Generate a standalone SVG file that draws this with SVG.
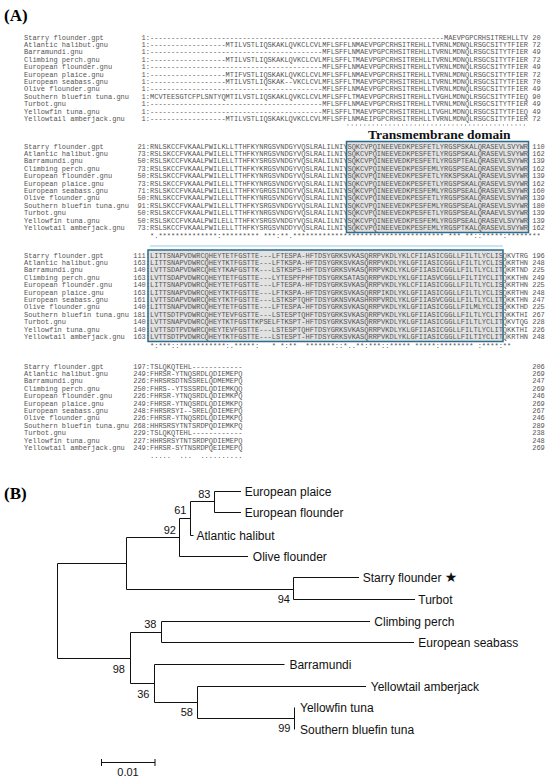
<svg xmlns="http://www.w3.org/2000/svg" width="550" height="780" viewBox="0 0 550 780">
<style>
.panel{font-family:"Liberation Serif","Times New Roman",serif;font-weight:bold;font-size:17px;fill:#000}
.aln{font-family:"Liberation Mono","DejaVu Sans Mono",monospace;font-size:7px;fill:#555;white-space:pre}
.tm{font-family:"Liberation Serif","Times New Roman",serif;font-weight:bold;font-size:13.5px;fill:#111}
.box{fill:none;stroke:#2b6c8f;stroke-width:1.5}
.shade{fill:#e2e2e2}
.br{fill:none;stroke:#111;stroke-width:1}
.leaf{font-family:"Liberation Sans",Arial,sans-serif;font-size:12px;fill:#111}
.bs{font-family:"Liberation Sans",Arial,sans-serif;font-size:11px;fill:#111;text-anchor:end}
.e{text-anchor:end}
</style>
<rect width="550" height="780" fill="#fff"/>
<text class="panel" x="4" y="21">(A)</text>

<g id="shading">
<rect class="shade" x="346.5" y="141.5" width="182" height="91"/>
<rect class="shade" x="148" y="250" width="355" height="91.5"/>
</g>

<g id="block1">
<text class="aln" y="39.5"><tspan x="24">Starry flounder.gpt</tspan><tspan x="150" class="e">1:</tspan><tspan x="150">----------------------------------------------------------------------MAEVPGPCRHSITREHLLTV</tspan><tspan x="532.2">20</tspan></text>
<text class="aln" y="46.9"><tspan x="24">Atlantic halibut.gnu</tspan><tspan x="150" class="e">1:</tspan><tspan x="150">------------------MTILVSTLIQSKAKLQVKCLCVLMFLSFFLNMAEVPGPCRHSITREHLLTVRNLMDNQLRSGCSITYTFIER</tspan><tspan x="532.2">72</tspan></text>
<text class="aln" y="54.3"><tspan x="24">Barramundi.gnu</tspan><tspan x="150" class="e">1:</tspan><tspan x="150">-----------------------------------------MFLSFFLNMAEVPGPCRHSITREHLLTVRNLMDNQLRSGCSITYTFIER</tspan><tspan x="532.2">49</tspan></text>
<text class="aln" y="61.7"><tspan x="24">Climbing perch.gnu</tspan><tspan x="150" class="e">1:</tspan><tspan x="150">------------------MTILVSTLIQSKAKLQVKCLCVLMFLSFFLTMAEVPGPCRHSITREHLLTVRNLMDNQLRSGCSITYTFIER</tspan><tspan x="532.2">72</tspan></text>
<text class="aln" y="69.1"><tspan x="24">European flounder.gnu</tspan><tspan x="150" class="e">1:</tspan><tspan x="150">-----------------------------------------MFLSFFLNMAEVPGPCRHSITREHLLTVRNLMDNQLRSGCSITYTFIER</tspan><tspan x="532.2">49</tspan></text>
<text class="aln" y="76.5"><tspan x="24">European plaice.gnu</tspan><tspan x="150" class="e">1:</tspan><tspan x="150">------------------MTIFVSTLIQSKAKLQVKCLCVLMFLSFFLNMAEVPGPCRHSITREHLLTVRNLMDNQLRSGCSITYTFIER</tspan><tspan x="532.2">72</tspan></text>
<text class="aln" y="83.9"><tspan x="24">European seabass.gnu</tspan><tspan x="150" class="e">1:</tspan><tspan x="150">------------------MTILVSTLIQSKAK--VKCLCVLMFLSFFLTMAEVPGPCRHSITREHLLTVRNLMDNQLRSGCSITYTFIER</tspan><tspan x="532.2">70</tspan></text>
<text class="aln" y="91.3"><tspan x="24">Olive flounder.gnu</tspan><tspan x="150" class="e">1:</tspan><tspan x="150">-----------------------------------------MFLSFFLNMAEVPGPCRHSITREHLLTVRNLMDNQLRSGCSITYTFIER</tspan><tspan x="532.2">49</tspan></text>
<text class="aln" y="98.7"><tspan x="24">Southern bluefin tuna.gnu</tspan><tspan x="150" class="e">1:</tspan><tspan x="150">MCVTEESGTCFPLSNTYQMTILVSTLIQSKAKLQVKCLCVLMFLSFFLTMAEVPGPCRHSITREHLLTVGHLMDNQLRSGCSITYTFIEQ</tspan><tspan x="532.2">90</tspan></text>
<text class="aln" y="106.1"><tspan x="24">Turbot.gnu</tspan><tspan x="150" class="e">1:</tspan><tspan x="150">-----------------------------------------MFLSFFLNMAEVPGPCRHSITREHLLTVRNLMDNQLRSGCSITYTFIER</tspan><tspan x="532.2">49</tspan></text>
<text class="aln" y="113.5"><tspan x="24">Yellowfin tuna.gnu</tspan><tspan x="150" class="e">1:</tspan><tspan x="150">-----------------------------------------MFLSFFLTMAEVPGPCRHSITREHLLTVGHLMDNQLRSGCSITYTFIEQ</tspan><tspan x="532.2">49</tspan></text>
<text class="aln" y="120.9"><tspan x="24">Yellowtail amberjack.gnu</tspan><tspan x="150" class="e">1:</tspan><tspan x="150">------------------MTILVSTLIQSKAKLQVKCLCVLMFLSFFLNMAEIPGPCRHSITREHLLTVRNLMDNQLRSGCSITYTFIER</tspan><tspan x="532.2">72</tspan></text>
</g>

<line x1="347.5" y1="125" x2="528" y2="125" stroke="#666" stroke-width="1" stroke-dasharray="1 3.2"/>
<text class="tm" x="368" y="138.5">Transmembrane domain</text>

<g id="block2">
<text class="aln" y="148.5"><tspan x="24">Starry flounder.gpt</tspan><tspan x="150" class="e">21:</tspan><tspan x="150">RNLSKCCFVKAALPWILKLLTTHFKYNRGSVNDGYVQSLRALILNIYSQKCVPQINEEVEDKPESFETLYRGSPSKALQRASEVLSVYWR</tspan><tspan x="532.2">110</tspan></text>
<text class="aln" y="155.9"><tspan x="24">Atlantic halibut.gnu</tspan><tspan x="150" class="e">73:</tspan><tspan x="150">RSLSKCCFVKAALPWILELLTTHFKYNRGSVNDGYVQSLRALILNIYSQKCVPQINEEVEDKPESFETLYRGSPSKALQRASEVLSVYWR</tspan><tspan x="532.2">162</tspan></text>
<text class="aln" y="163.3"><tspan x="24">Barramundi.gnu</tspan><tspan x="150" class="e">50:</tspan><tspan x="150">RSLSKCCFVKAALPWILELLTTHFKYSRGSVNDGYVQSLRALILNIYSQKCVPQINEEVEDKPESFETLYRGSPTEALQRASEVLSVYWR</tspan><tspan x="532.2">139</tspan></text>
<text class="aln" y="170.7"><tspan x="24">Climbing perch.gnu</tspan><tspan x="150" class="e">73:</tspan><tspan x="150">RSLSKCCFVKAALPWILELLTTHFKYKRGSVNDGYVQSLRALILNIYSQKCVPQINEEVEDKPESFEMLYRGSPSEALQRASEVLSVYWR</tspan><tspan x="532.2">162</tspan></text>
<text class="aln" y="178.1"><tspan x="24">European flounder.gnu</tspan><tspan x="150" class="e">50:</tspan><tspan x="150">RSLSKCCFVKAALPWILELLTTHFKYNRGSVNDGYVQSLRALILNIYSQKCVPQINEEVEDKPESFETLYRKSPSKALQRASEVLSVYWR</tspan><tspan x="532.2">139</tspan></text>
<text class="aln" y="185.5"><tspan x="24">European plaice.gnu</tspan><tspan x="150" class="e">73:</tspan><tspan x="150">RSLSKCCFVKAALPWILELLTTHFKYNRGSVNDGYVQSLRALILNIYSQKCVPQINEEVEDKPESFETLYRGSPSKALQRASEVLSVYWR</tspan><tspan x="532.2">162</tspan></text>
<text class="aln" y="192.9"><tspan x="24">European seabass.gnu</tspan><tspan x="150" class="e">71:</tspan><tspan x="150">RSLSKCCFVKAALPWILELLTTHFKYGRGSINDGYVQSLRALILNIYSQKCVPQINEEVEDKPESFEMLYRGSPSEALQRASEVLSVYWR</tspan><tspan x="532.2">160</tspan></text>
<text class="aln" y="200.3"><tspan x="24">Olive flounder.gnu</tspan><tspan x="150" class="e">50:</tspan><tspan x="150">RNLSKCCFVKAALPWILELLTTHFKYNRGSVNDGYVQSLRALILNIYSQKCVPQINEEVEDKPESFETLYRGSPSKALQRASEVLSVYWR</tspan><tspan x="532.2">139</tspan></text>
<text class="aln" y="207.7"><tspan x="24">Southern bluefin tuna.gnu</tspan><tspan x="150" class="e">91:</tspan><tspan x="150">RSLSKCCFVKAALPWILELLTTHFKYSRGSVNDGYVQSLRALILNIYSQKCVPQINEEVEDKPESFEMLYRGSPSEALQRASEVLSVYWR</tspan><tspan x="532.2">180</tspan></text>
<text class="aln" y="215.1"><tspan x="24">Turbot.gnu</tspan><tspan x="150" class="e">50:</tspan><tspan x="150">RSLSKCCFVKAALPWILELLTTHFKYNRGSVNDGYVQSLRALILNIYSQKCVPQINEEVEDKPESFETLYRGSPSEALQRAAEVLSVYWR</tspan><tspan x="532.2">139</tspan></text>
<text class="aln" y="222.5"><tspan x="24">Yellowfin tuna.gnu</tspan><tspan x="150" class="e">50:</tspan><tspan x="150">RSLSKCCFVKAALPWILELLTTHFKYSRGSVNDGYVQSLRALILNIYSQKCVPQINEEVEDKPESFEMLYRGSPSEALQRASEVLSVYWR</tspan><tspan x="532.2">139</tspan></text>
<text class="aln" y="229.9"><tspan x="24">Yellowtail amberjack.gnu</tspan><tspan x="150" class="e">73:</tspan><tspan x="150">RSLSKCCFVKAALPWILELLTTHFKYSRGSVNDDYVQSLRALILNIYSQKCVPQINEEVEDKPESFEMLYRGSPTKALQRASEVLSVYWR</tspan><tspan x="532.2">162</tspan></text>
<text class="aln" x="150" y="237.5">*.**************:********* ***:**.************************************ *** **::*****:********</text>
</g>

<line x1="150" y1="246" x2="503" y2="246" stroke="#9ccbe3" stroke-width="1.2"/>

<g id="block3">
<text class="aln" y="257.5"><tspan x="24">Starry flounder.gpt</tspan><tspan x="150" class="e">111:</tspan><tspan x="150">LITTSNAPVDWRCQHEYTETFGSTTE---LFTESPA-HFTDSYGRKSVKASQRRPVKDLYKLCFIIASICGGLLFILTLYCLISQKVTRG</tspan><tspan x="532.2">196</tspan></text>
<text class="aln" y="264.9"><tspan x="24">Atlantic halibut.gnu</tspan><tspan x="150" class="e">163:</tspan><tspan x="150">LITTSNAPVDWRCQHEYTKTFGSTTE---LFTKSPA-HFTDSYGRKSVKASQRRPVKDLYKLGFIIASICGGLLFILTLYCLISQKRTHN</tspan><tspan x="532.2">248</tspan></text>
<text class="aln" y="272.3"><tspan x="24">Barramundi.gnu</tspan><tspan x="150" class="e">140:</tspan><tspan x="150">LVTTSDAPVDWRCQHEYTKAFGSTTK---LSTKSPS-HFTDSYGRKSVKASQRRPVKDLYKLGFIIASICGGLLFILTLYCLITQKRTND</tspan><tspan x="532.2">225</tspan></text>
<text class="aln" y="279.7"><tspan x="24">Climbing perch.gnu</tspan><tspan x="150" class="e">163:</tspan><tspan x="150">LVTTSDAPVDWRCQHEYTETFGSTTE---LYTESPFPHFTDSYGRKSATASQRRPVKDLYKLGFIIASVCGGLLFILTIYCLITQKKTHN</tspan><tspan x="532.2">249</tspan></text>
<text class="aln" y="287.1"><tspan x="24">European flounder.gnu</tspan><tspan x="150" class="e">140:</tspan><tspan x="150">LITTSNAPVDWRCQHEYTETFGSTTE---LFTESPA-HFTDSYGRKSVKASQRRPVKDLYKLCFIIASICGGLLFILTLYCLISQKRTHN</tspan><tspan x="532.2">225</tspan></text>
<text class="aln" y="294.5"><tspan x="24">European plaice.gnu</tspan><tspan x="150" class="e">163:</tspan><tspan x="150">LITTSNAPVDWRCQHEYTKTFGSTTE---LFTKSPA-HFTDSYGRKSVKASQRRPIKDLYKLGFIIASICGGLLFILTLYCLISQKRTHN</tspan><tspan x="532.2">248</tspan></text>
<text class="aln" y="301.9"><tspan x="24">European seabass.gnu</tspan><tspan x="150" class="e">161:</tspan><tspan x="150">LVTTSDAPVDWRCQHEYTKTFGSTTE---LSTKSPTQHFTDSYGKNSVKASHRRPVRDLYKLGFIIASVCGGLLFILTLYCLITQKKTHN</tspan><tspan x="532.2">247</tspan></text>
<text class="aln" y="309.3"><tspan x="24">Olive flounder.gnu</tspan><tspan x="150" class="e">140:</tspan><tspan x="150">LITTSNAPVDWRCQHEYTETFGSTTE---LFTESPA-HFTDSYGRKSVKASQRRPVKDLYKLGFIIASICGGLLFILMLYCLISQKKTHD</tspan><tspan x="532.2">225</tspan></text>
<text class="aln" y="316.7"><tspan x="24">Southern bluefin tuna.gnu</tspan><tspan x="150" class="e">181:</tspan><tspan x="150">LVTTSDTPVDWRCQHEYTEVFGSTTE---LSTESPTQHFTDSYGRKSVKASQRRPVKDLYKLGFIIASICGGLLFILTLYCLITQKKTHI</tspan><tspan x="532.2">267</tspan></text>
<text class="aln" y="324.1"><tspan x="24">Turbot.gnu</tspan><tspan x="150" class="e">140:</tspan><tspan x="150">LVTTSNAPVDWRCQHEYTKTFGSTTKPSELFTKSPT-HFTDSYGRKSVKASQRRPVKDLYKLGFIIASICGGLLFILTLYCLITQKVTQG</tspan><tspan x="532.2">228</tspan></text>
<text class="aln" y="331.5"><tspan x="24">Yellowfin tuna.gnu</tspan><tspan x="150" class="e">140:</tspan><tspan x="150">LVTTSDTPVDWRCQHEYTEVFGSTTE---LSTESPTQHFTDSYGRKSVKASQRRPVKDLYKLGFIIASICGGLLFILTLYCLITQKKTHI</tspan><tspan x="532.2">226</tspan></text>
<text class="aln" y="338.9"><tspan x="24">Yellowtail amberjack.gnu</tspan><tspan x="150" class="e">163:</tspan><tspan x="150">LVTTSDTPVDWRCQHEYTKTFGSTTE---LSTESPT-HFTDSYGRKSVKASQRRPVKDLYKLGFIIASICGGLLFILTIYCLITQKRTHN</tspan><tspan x="532.2">248</tspan></text>
<text class="aln" x="150" y="348">*:***::***********:.*****:   * *:**  *******::*..**:***::***** *****:******** :****:**    </text>
</g>

<g id="block4">
<text class="aln" y="368.5"><tspan x="24">Starry flounder.gpt</tspan><tspan x="150" class="e">197:</tspan><tspan x="150">TSLQKQTEHL------------</tspan><tspan x="532.2">206</tspan></text>
<text class="aln" y="375.9"><tspan x="24">Atlantic halibut.gnu</tspan><tspan x="150" class="e">249:</tspan><tspan x="150">FHRSR-YTNQSRDLQDIEMEPQ</tspan><tspan x="532.2">269</tspan></text>
<text class="aln" y="383.3"><tspan x="24">Barramundi.gnu</tspan><tspan x="150" class="e">226:</tspan><tspan x="150">FHRSRSDTNSSRELQDMEMEPQ</tspan><tspan x="532.2">247</tspan></text>
<text class="aln" y="390.7"><tspan x="24">Climbing perch.gnu</tspan><tspan x="150" class="e">250:</tspan><tspan x="150">FHRS--YTSSSRDLQDIEMKQQ</tspan><tspan x="532.2">269</tspan></text>
<text class="aln" y="398.1"><tspan x="24">European flounder.gnu</tspan><tspan x="150" class="e">226:</tspan><tspan x="150">FHRSR-YTNQSRDLQDIEMKPQ</tspan><tspan x="532.2">246</tspan></text>
<text class="aln" y="405.5"><tspan x="24">European plaice.gnu</tspan><tspan x="150" class="e">249:</tspan><tspan x="150">FHRSR-YTNQSRDLQDIEMKPQ</tspan><tspan x="532.2">269</tspan></text>
<text class="aln" y="412.9"><tspan x="24">European seabass.gnu</tspan><tspan x="150" class="e">248:</tspan><tspan x="150">FHRSRSYI--SRELQDIEMEPQ</tspan><tspan x="532.2">267</tspan></text>
<text class="aln" y="420.3"><tspan x="24">Olive flounder.gnu</tspan><tspan x="150" class="e">226:</tspan><tspan x="150">FHRSR-YTNQSRDLQDIEMKPQ</tspan><tspan x="532.2">246</tspan></text>
<text class="aln" y="427.7"><tspan x="24">Southern bluefin tuna.gnu</tspan><tspan x="150" class="e">268:</tspan><tspan x="150">HHRSRSYTNTSRDPQDIEMKPQ</tspan><tspan x="532.2">289</tspan></text>
<text class="aln" y="435.1"><tspan x="24">Turbot.gnu</tspan><tspan x="150" class="e">229:</tspan><tspan x="150">TSLQKQTEHL------------</tspan><tspan x="532.2">238</tspan></text>
<text class="aln" y="442.5"><tspan x="24">Yellowfin tuna.gnu</tspan><tspan x="150" class="e">227:</tspan><tspan x="150">HHRSRSYTNTSRDPQDIEMEPQ</tspan><tspan x="532.2">248</tspan></text>
<text class="aln" y="449.9"><tspan x="24">Yellowtail amberjack.gnu</tspan><tspan x="150" class="e">249:</tspan><tspan x="150">FHRSR-SYTNSRDPQEIEMEPQ</tspan><tspan x="532.2">269</tspan></text>
<text class="aln" x="150" y="458">.....  ...  ..........</text>
</g>

<g id="boxes">
<rect class="box" x="346.5" y="141.5" width="182" height="91"/>
<rect class="box" x="148" y="250" width="355" height="91.5"/>
</g>

<text class="panel" x="4" y="499">(B)</text>

<g id="connectors">
<path class="br" d="M126.5,563.5 H57.5 V658.5 H130.5"/>
<path class="br" d="M179.5,537.5 H126.5 V589.5 H293.5"/>
<path class="br" d="M190.5,518.5 H179.5 V556.5 H248"/>
<path class="br" d="M214.5,501.5 H190.5 V535.5 H193.5"/>
<path class="br" d="M241,491.5 H214.5 V512.5 H241"/>
<path class="br" d="M359,577.5 H293.5 V599.5 H415"/>
<path class="br" d="M161.5,632.5 H130.5 V683.5 H154.5"/>
<path class="br" d="M370,621.5 H161.5 V642.5 H414"/>
<path class="br" d="M284.5,664.5 H154.5 V702.5 H197.5"/>
<path class="br" d="M366,686.5 H197.5 V718.5 H294.5"/>
<path class="br" d="M294.5,707.5 V729.5"/>
</g>

<g id="bootstrap">
<text class="bs" x="210.5" y="498">83</text>
<text class="bs" x="186.5" y="514">61</text>
<text class="bs" x="176" y="534">92</text>
<text class="bs" x="290" y="602.5">94</text>
<text class="bs" x="156.5" y="628">38</text>
<text class="bs" x="125" y="672.5">98</text>
<text class="bs" x="149.5" y="697.5">36</text>
<text class="bs" x="193" y="716">58</text>
<text class="bs" x="290.5" y="732">99</text>
</g>

<g id="european-plaice"><text class="leaf" x="244.7" y="495.8">European plaice</text></g>
<g id="european-flounder"><text class="leaf" x="244.7" y="516.8">European flounder</text></g>
<g id="atlantic-halibut"><text class="leaf" x="196.5" y="539.8">Atlantic halibut</text></g>
<g id="olive-flounder"><text class="leaf" x="252.8" y="560.8">Olive flounder</text></g>
<g id="starry-flounder"><text class="leaf" x="362.7" y="581.8">Starry flounder <tspan font-family="'DejaVu Sans',sans-serif" font-size="14">★</tspan></text></g>
<g id="turbot"><text class="leaf" x="418.3" y="603.8">Turbot</text></g>
<g id="climbing-perch"><text class="leaf" x="374.3" y="625.8">Climbing perch</text></g>
<g id="european-seabass"><text class="leaf" x="418.3" y="646.8">European seabass</text></g>
<g id="barramundi"><text class="leaf" x="289.4" y="668.8">Barramundi</text></g>
<g id="yellowtail-amberjack"><text class="leaf" x="370.8" y="690.8">Yellowtail amberjack</text></g>
<g id="yellowfin-tuna"><text class="leaf" x="300" y="711.8">Yellowfin tuna</text></g>
<g id="southern-bluefin-tuna"><text class="leaf" x="300" y="733.8">Southern bluefin tuna</text></g>

<g id="scale-bar">
<path class="br" d="M101.5,762.5 H155 M101.5,759 V766 M155,759 V766"/>
<text class="bs" x="128" y="776" style="text-anchor:middle">0.01</text>
</g>
</svg>
